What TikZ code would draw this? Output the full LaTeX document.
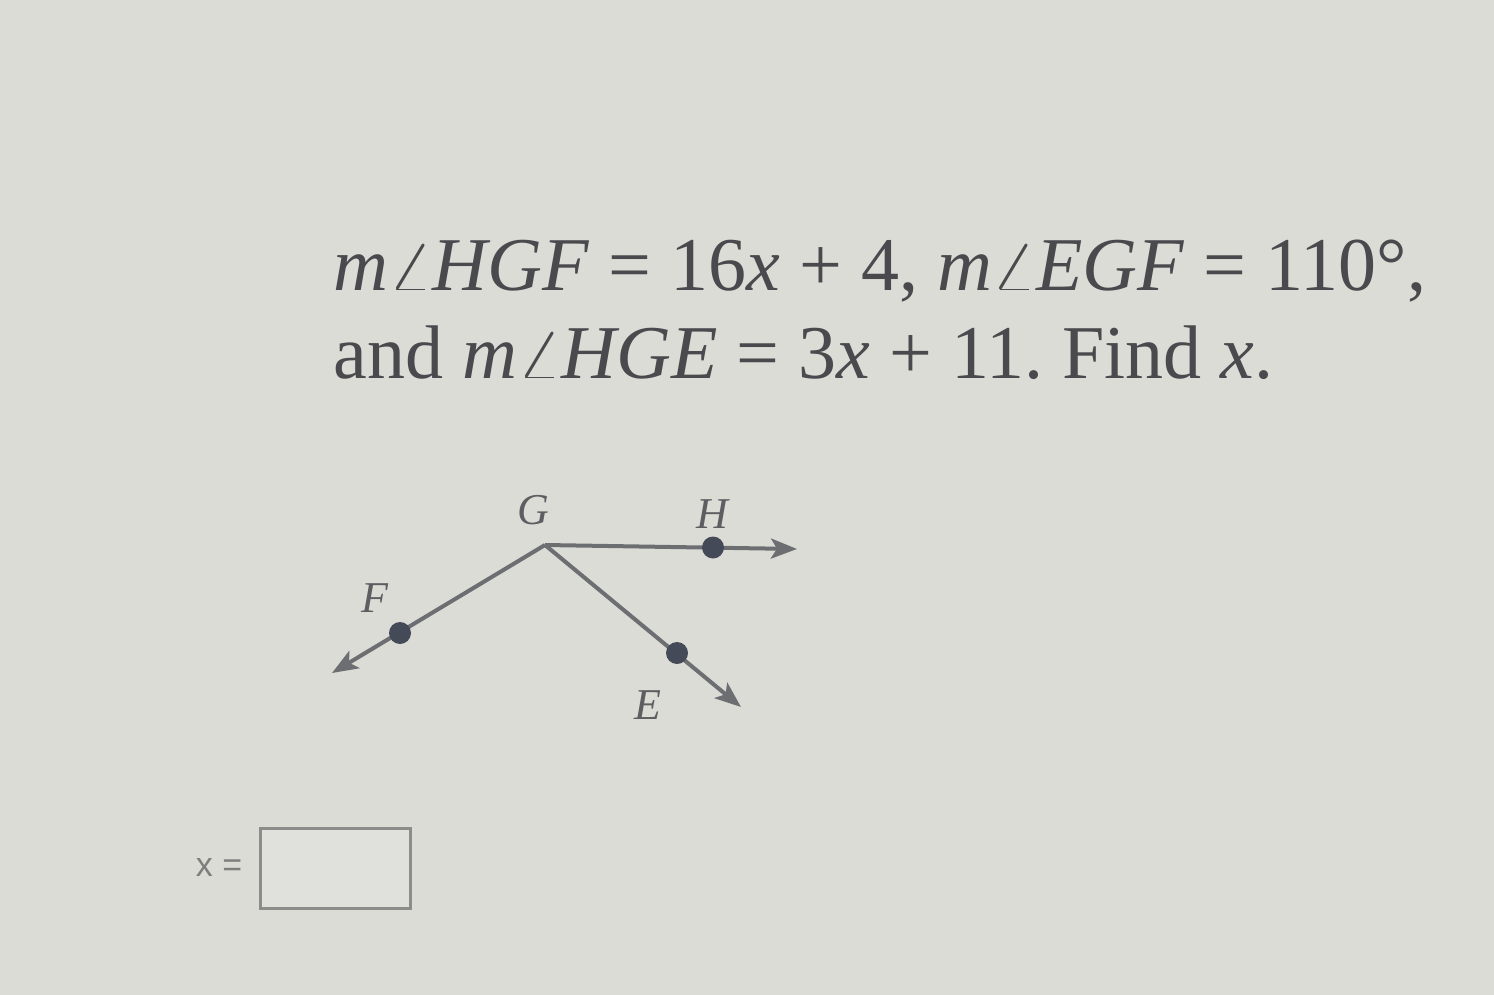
\documentclass[tikz,border=0pt]{standalone}
\usepackage{fontspec}
\setmainfont{Liberation Serif}
\newfontfamily\sansf{Liberation Sans}
\usetikzlibrary{arrows.meta}
\definecolor{bg}{HTML}{DCDCD6}
\definecolor{ink}{HTML}{4A4A4E}
\definecolor{rayc}{HTML}{6C6E72}
\definecolor{dotc}{HTML}{444A58}
\definecolor{lblc}{HTML}{5E5E62}
\definecolor{boxc}{HTML}{8C8C8A}
\definecolor{boxfill}{HTML}{E0E0DC}
\newcommand{\ang}{{\boldmath$\angle$}}
\tikzset{
  ray/.style={draw=rayc, line width=2pt, -{Stealth[length=13pt,width=10pt,inset=3pt]}},
  pt/.style={circle, fill=dotc, inner sep=0pt, minimum size=11pt},
  lbl/.style={text=lblc, font=\fontsize{22}{26}\selectfont\itshape, inner sep=0pt},
  prob/.style={anchor=base west, text=ink, font=\fontsize{38}{45}\selectfont, inner sep=0pt}
}
\begin{document}
\begin{tikzpicture}[x=0.5pt,y=-0.5pt]
\fill[bg] (0,0) rectangle (1494,995);
\useasboundingbox (0,0) rectangle (1494,995);
\node[prob] (l1) at (333,290) {\textit{m}\ang\textit{HGF} = 16\textit{x} + 4, \textit{m}\ang\textit{EGF} = 110°,};
\node[prob] (l2) at (333,378) {and \textit{m}\ang\textit{HGE} = 3\textit{x} + 11.\ Find \textit{x}.};
\coordinate (G) at (545,545);
\coordinate (Hend) at (797,549);
\coordinate (Fend) at (332,673);
\coordinate (Eend) at (741,707);
\draw[ray] (G) -- (Hend);
\draw[ray] (G) -- (Fend);
\draw[ray] (G) -- (Eend);
\node[pt] (H) at (713,547.5) {};
\node[pt] (F) at (400,633) {};
\node[pt] (E) at (677,653) {};
\node[lbl] (Gl) at (533,510) {G};
\node[lbl] (Hl) at (712,514) {H};
\node[lbl] (Fl) at (375,598) {F};
\node[lbl] (El) at (648,705) {E};
\node[text=boxc!90!black, font=\sansf\fontsize{17}{20}\selectfont, anchor=center] (xl) at (219,868) {x =};
\node[draw=boxc, line width=1.5pt, fill=boxfill, minimum width=75pt, minimum height=40pt, inner sep=0pt] (box) at (335,868) {};
\end{tikzpicture}
\end{document}
